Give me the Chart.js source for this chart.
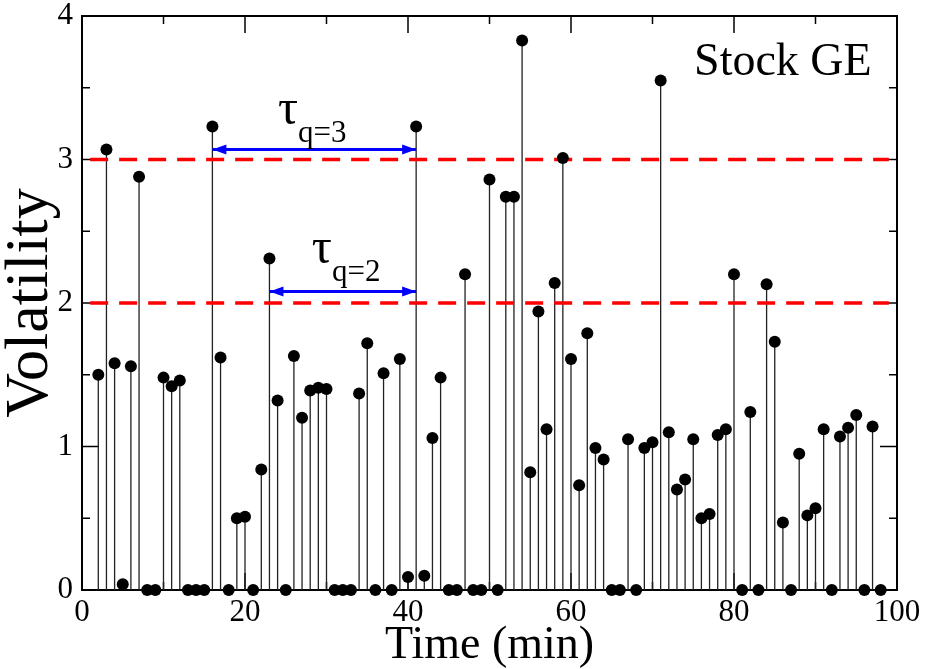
<!DOCTYPE html>
<html>
<head>
<meta charset="utf-8">
<script src="https://cdn.jsdelivr.net/npm/chart.js@4.4.1/dist/chart.umd.min.js"></script>
<style>
  body { margin: 0; background: #fff; }
  #wrap { width: 932px; height: 669px; }
</style>
</head>
<body>
<div id="wrap"><canvas id="vol-chart" width="932" height="669"></canvas></div>
<script>
// one reading per minute, t = 2 .. 98
var minutes = [];
for (var m = 2; m <= 98; m++) minutes.push(m);

var volatility = [
  1.50, 3.07, 1.58, 0.04, 1.56, 2.88, 0, 0, 1.48, 1.42, // 2-11
  1.46, 0, 0, 0, 3.23, 1.62, 0, 0.50, 0.51, 0,          // 12-21
  0.84, 2.31, 1.32, 0, 1.63, 1.20, 1.39, 1.41, 1.40, 0, // 22-31
  0, 0, 1.37, 1.72, 0, 1.51, 0, 1.61, 0.09, 3.23,       // 32-41
  0.10, 1.06, 1.48, 0, 0, 2.20, 0, 0, 2.86, 0,          // 42-51
  2.74, 2.74, 3.83, 0.82, 1.94, 1.12, 2.14, 3.01, 1.61, 0.73, // 52-61
  1.79, 0.99, 0.91, 0, 0, 1.05, 0, 0.99, 1.03, 3.55,    // 62-71
  1.10, 0.70, 0.77, 1.05, 0.50, 0.53, 1.08, 1.12, 2.20, 0, // 72-81
  1.24, 0, 2.13, 1.73, 0.47, 0, 0.95, 0.52, 0.57, 1.12, // 82-91
  0, 1.07, 1.13, 1.22, 0, 1.14, 0                       // 92-98
];

var thresholdLevels = [2, 3];
var tauStart = [23, 16];
var tauEnd = [41, 41];
var tauLevel = [2.08, 3.07];
var tauLabels = ["q=2", "q=3"];

var SERIF = '"Liberation Serif", "Times New Roman", serif';

var points = minutes.map(function (t, i) {
  return { x: t, y: volatility[i] };
});

var datasets = [
  {
    label: "volatility",
    data: points,
    pointRadius: 6,
    pointHoverRadius: 6,
    pointBackgroundColor: "#000",
    pointBorderWidth: 0,
    showLine: false,
    clip: false,
  },
];

thresholdLevels.forEach(function (q) {
  datasets.push({
    label: "threshold " + q,
    data: [{ x: 1, y: q }, { x: 99, y: q }],
    showLine: true,
    borderColor: "#ff0000",
    borderWidth: 3.5,
    borderDash: [18, 11],
    pointRadius: 0,
    clip: false,
  });
});

tauStart.forEach(function (x0, i) {
  datasets.push({
    label: "tau " + tauLabels[i],
    data: [{ x: x0, y: tauLevel[i] }, { x: tauEnd[i], y: tauLevel[i] }],
    showLine: true,
    borderColor: "#0000ff",
    borderWidth: 3,
    pointRadius: 0,
  });
});

function seg(ctx, x1, y1, x2, y2) {
  ctx.beginPath();
  ctx.moveTo(x1, y1);
  ctx.lineTo(x2, y2);
  ctx.stroke();
}

function arrowHead(ctx, x, y, dir) {
  // dir = -1 points left, +1 points right
  ctx.beginPath();
  ctx.moveTo(x, y);
  ctx.lineTo(x - dir * 14, y - 5);
  ctx.lineTo(x - dir * 14, y + 5);
  ctx.closePath();
  ctx.fill();
}

var framePlugin = {
  id: "framePlugin",
  beforeDatasetsDraw: function (chart) {
    var ctx = chart.ctx;
    var a = chart.chartArea;
    var xs = chart.scales.x;
    var ys = chart.scales.y;
    ctx.save();
    ctx.strokeStyle = "#000";
    ctx.lineWidth = 1.5;
    // inward ticks on all four sides
    for (var t = 10; t < 100; t += 10) {
      var px = xs.getPixelForValue(t);
      var len = t % 20 === 0 ? 17 : 8;
      seg(ctx, px, a.bottom, px, a.bottom - len);
      seg(ctx, px, a.top, px, a.top + len);
    }
    for (var k = 1; k < 8; k++) {
      var py = ys.getPixelForValue(k * 0.5);
      var l = k % 2 === 0 ? 17 : 8;
      seg(ctx, a.left, py, a.left + l, py);
      seg(ctx, a.right, py, a.right - l, py);
    }
    ctx.lineWidth = 2;
    ctx.strokeRect(a.left, a.top, a.right - a.left, a.bottom - a.top);

    // stems from the baseline up to each reading
    ctx.strokeStyle = "#222";
    ctx.lineWidth = 1.3;
    var y0 = ys.getPixelForValue(0);
    minutes.forEach(function (t, i) {
      var x = xs.getPixelForValue(t);
      seg(ctx, x, y0, x, ys.getPixelForValue(volatility[i]));
    });
    ctx.restore();
  },
  afterDatasetsDraw: function (chart) {
    var ctx = chart.ctx;
    var xs = chart.scales.x;
    var ys = chart.scales.y;
    ctx.save();
    ctx.fillStyle = "#0000ff";
    tauStart.forEach(function (x0, i) {
      var y = ys.getPixelForValue(tauLevel[i]);
      arrowHead(ctx, xs.getPixelForValue(x0), y, -1);
      arrowHead(ctx, xs.getPixelForValue(tauEnd[i]), y, 1);
    });

    ctx.fillStyle = "#000";
    ctx.textAlign = "left";
    ctx.textBaseline = "alphabetic";
    // tau labels above each arrow
    var tauX = [28.2, 24.05];
    var tauY = [2.28, 3.25];
    tauLabels.forEach(function (lab, i) {
      var x = xs.getPixelForValue(tauX[i]);
      var y = ys.getPixelForValue(tauY[i]);
      ctx.font = "50px " + SERIF;
      ctx.fillText("\u03c4", x, y);
      var w = ctx.measureText("\u03c4").width;
      ctx.font = "31px " + SERIF;
      ctx.fillText(lab, x + w, y + 18);
    });

    ctx.font = "46px " + SERIF;
    ctx.fillText("Stock GE", xs.getPixelForValue(75.1), ys.getPixelForValue(3.59));
    ctx.restore();
  },
};

var ctx = document.getElementById("vol-chart").getContext("2d");

var volChart = new Chart(ctx, {
  type: "scatter",
  data: { datasets: datasets },
  options: {
    responsive: false,
    animation: false,
    events: [],
    layout: { padding: { left: 0, top: 16, right: 35, bottom: 0 } },
    plugins: {
      legend: { display: false },
      tooltip: { enabled: false },
    },
    scales: {
      x: {
        type: "linear",
        min: 0,
        max: 100,
        grid: { display: false, drawTicks: false },
        border: { display: false },
        ticks: {
          stepSize: 20,
          padding: 7,
          color: "#000",
          font: { family: SERIF, size: 31, lineHeight: 1 },
        },
        title: {
          display: true,
          text: "Time (min)",
          color: "#000",
          padding: 0,
          font: { family: SERIF, size: 46, lineHeight: 1 },
        },
        afterFit: function (scale) {
          scale.height = 79;
          scale.paddingLeft = 0;
          scale.paddingRight = 0;
        },
      },
      y: {
        type: "linear",
        min: 0,
        max: 4,
        grid: { display: false, drawTicks: false },
        border: { display: false },
        ticks: {
          stepSize: 1,
          padding: 9,
          color: "#000",
          font: { family: SERIF, size: 31, lineHeight: 1 },
        },
        title: {
          display: true,
          text: "Volatility",
          color: "#000",
          padding: { top: 0, bottom: 0 },
          font: { family: SERIF, size: 62, lineHeight: 1 },
        },
        afterFit: function (scale) {
          scale.width = 82;
          scale.paddingTop = 0;
          scale.paddingBottom = 0;
        },
      },
    },
  },
  plugins: [framePlugin],
});
</script>
</body>
</html>
